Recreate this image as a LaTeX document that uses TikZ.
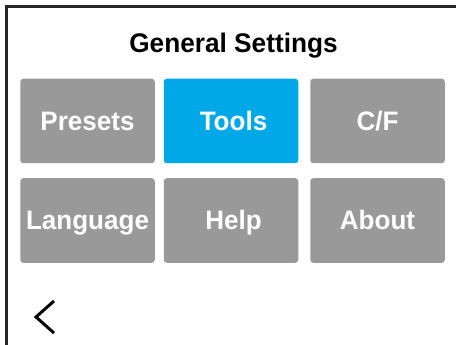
\documentclass[tikz,border=0pt]{standalone}
\usepackage{fontspec}
\setmainfont[FakeStretch=0.975]{Liberation Sans}
\definecolor{btngray}{HTML}{999999}
\definecolor{btnblue}{HTML}{00A8E8}
\definecolor{framec}{HTML}{262626}
\tikzset{
  btn/.style={rectangle,rounded corners=3pt,fill=btngray,inner sep=0pt,minimum width=134.5pt,text height=51.5pt,text depth=33pt,text=white,font=\fontsize{26.7}{30}\selectfont\bfseries},
  btnactive/.style={btn,fill=btnblue},
  titlelabel/.style={inner sep=0pt,anchor=base,text=black,font=\fontsize{26.9}{30}\selectfont\bfseries},
  framestroke/.style={draw=framec,line width=3pt},
  backicon/.style={draw=black,line width=3pt}
}
\begin{document}
\begin{tikzpicture}[x=1pt,y=-1pt]
\useasboundingbox (0,0) rectangle (456,345);
\fill[white] (0,0) rectangle (456,345);
\draw[framestroke] (6.5,345) -- (6.5,6.5) -- (456,6.5);
\node[titlelabel] (title) at (233.5,53) {General Settings};
\node[btn] (presets) at (87.5,121) {Presets};
\node[btnactive] (tools) at (231,121) {\hspace*{5pt}Tools};
\node[btn] (cf) at (377.5,121) {C/F};
\node[btn] (language) at (87.5,220.5) {Language};
\node[btn] (help) at (231,220.5) {\hspace*{5pt}Help};
\node[btn] (about) at (377.5,220.5) {About};
\draw[backicon] (54,301) -- (36,317) -- (54,333);
\end{tikzpicture}
\end{document}
